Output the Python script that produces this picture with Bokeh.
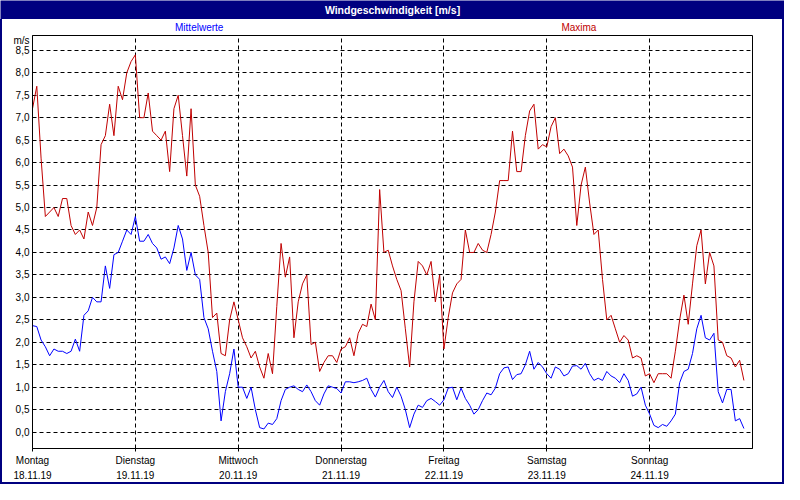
from bokeh.plotting import figure
from bokeh.models import FixedTicker, LinearAxis, Label, Range1d, Spacer, ColumnDataSource
from bokeh.layouts import column, row
from bokeh.embed import file_html
from bokeh.resources import INLINE
from bokeh.core.properties import value

# ---- data (hourly values, Mo 18.11.19 00:00 ... So 24.11.19 22:00) ----
maxima = [
    7.2, 7.7, 6.1, 4.8, 4.9, 5.0, 4.8, 5.2, 5.2, 4.6, 4.4, 4.5, 4.3, 4.9, 4.6, 5.0,
    6.4, 6.6, 7.3, 6.6, 7.7, 7.4, 8.0, 8.25,
    8.4, 7.0, 7.0, 7.55, 6.7, 6.6, 6.5, 6.7, 5.8, 7.2, 7.5, 6.6, 5.7, 7.2, 5.5, 5.25,
    4.6, 4.0, 2.55, 2.65, 1.75, 1.7, 2.5, 2.9,
    2.5, 2.1, 1.9, 1.65, 1.8, 1.45, 1.2, 1.75, 1.3, 2.8, 4.2, 3.45, 3.9, 2.1, 2.9, 3.3,
    3.5, 1.95, 2.0, 1.35, 1.55, 1.7, 1.7, 1.55,
    1.85, 1.9, 2.1, 1.7, 2.2, 2.4, 2.35, 2.85, 2.5, 5.4, 4.0, 4.05, 3.7, 3.4, 3.15, 2.3,
    1.45, 2.9, 3.8, 3.7, 3.5, 3.8, 2.9, 3.5,
    1.85, 2.55, 3.1, 3.3, 3.4, 4.5, 4.0, 4.0, 4.2, 4.05, 4.0, 4.4, 4.9, 5.6, 5.6, 5.6,
    6.7, 5.8, 5.8, 6.6, 7.15, 7.3, 6.3, 6.4,
    6.35, 6.8, 7.0, 6.2, 6.3, 6.15, 5.9, 4.6, 5.5, 5.9, 5.1, 4.4, 4.5, 3.4, 2.5, 2.6,
    2.3, 2.0, 2.15, 2.05, 1.65, 1.7, 1.65, 1.25,
    1.3, 1.1, 1.3, 1.3, 1.3, 1.2, 1.8, 2.5, 3.05, 2.4, 3.3, 4.15, 4.5, 3.3, 4.0, 3.7,
    2.05, 2.0, 1.7, 1.65, 1.45, 1.6, 1.15,
]
mittelwerte = [
    2.37, 2.35, 2.05, 1.9, 1.7, 1.85, 1.8, 1.8, 1.75, 1.8, 2.07, 1.8, 2.6, 2.7, 3.0, 2.9,
    2.9, 3.7, 3.2, 3.95, 4.0, 4.25, 4.5, 4.4,
    4.8, 4.25, 4.25, 4.4, 4.2, 4.1, 3.85, 3.9, 3.75, 4.1, 4.6, 4.3, 3.6, 4.0, 3.5, 3.4,
    2.55, 2.3, 1.8, 1.35, 0.25, 0.9, 1.3, 1.85,
    1.0, 1.0, 0.75, 1.0, 0.5, 0.1, 0.07, 0.2, 0.17, 0.3, 0.7, 0.95, 1.0, 1.03, 0.95, 0.9,
    1.05, 0.9, 0.7, 0.6, 0.85, 1.03, 1.0, 0.97,
    0.87, 1.12, 1.12, 1.1, 1.12, 1.15, 1.2, 0.95, 0.78, 1.0, 1.15, 0.9, 0.77, 1.0, 0.8, 0.5,
    0.1, 0.4, 0.6, 0.55, 0.7, 0.75, 0.68, 0.6,
    0.72, 0.98, 1.0, 0.72, 0.98, 0.75, 0.6, 0.4, 0.5, 0.7, 0.87, 0.83, 0.98, 1.3, 1.43, 1.45,
    1.17, 1.28, 1.3, 1.5, 1.8, 1.4, 1.55, 1.45,
    1.3, 1.2, 1.45, 1.4, 1.25, 1.3, 1.47, 1.48, 1.4, 1.53, 1.3, 1.15, 1.2, 1.15, 1.35, 1.25,
    1.2, 1.1, 1.3, 1.15, 0.8, 0.85, 1.0, 0.6,
    0.4, 0.15, 0.1, 0.17, 0.13, 0.25, 0.4, 1.1, 1.35, 1.4, 1.75, 2.3, 2.6, 2.1, 2.05, 2.2,
    0.9, 0.65, 0.95, 0.95, 0.25, 0.3, 0.08,
]
hours = list(range(len(maxima)))

day_ticks = [0, 24, 48, 72, 96, 120, 144]
day_names = ["Montag", "Dienstag", "Mittwoch", "Donnerstag", "Freitag", "Samstag", "Sonntag"]
day_dates = ["18.11.19", "19.11.19", "20.11.19", "21.11.19", "22.11.19", "23.11.19", "24.11.19"]
y_ticks = [0.0, 0.5, 1.0, 1.5, 2.0, 2.5, 3.0, 3.5, 4.0, 4.5, 5.0, 5.5, 6.0, 6.5, 7.0, 7.5, 8.0, 8.5]
y_unit = "m/s"
title_text = "Windgeschwindigkeit [m/s]"
series_names = ["Mittelwerte", "Maxima"]
series_label_pos = [38.9, 127.5]   # hours, where the series names are centred

NAVY = "#000080"
RED = "#C00000"
BLUE = "#0000FF"
FONT = "Liberation Sans"

# ---- title bar ----
tb = figure(width=784, height=19, x_range=(0, 1), y_range=(0, 1),
            x_axis_type=None, y_axis_type=None, output_backend="svg",
            toolbar_location=None, min_border=0)
tb.grid.visible = False
tb.background_fill_color = NAVY
tb.border_fill_color = NAVY
tb.outline_line_color = None
tb.add_layout(Label(x=0.5, y=0.5, text=title_text, text_color="white",
                    text_font=FONT, text_font_style="bold", text_font_size="10.5px",
                    text_align="center", text_baseline="middle"))

# ---- series-name strip (same horizontal scale as the chart) ----
st = figure(width=780, height=14, x_range=Range1d(0, 168), y_range=Range1d(0, 1),
            x_axis_type=None, y_axis_type=None, output_backend="svg",
            toolbar_location=None, min_border_left=30, min_border_right=30,
            min_border_top=0, min_border_bottom=0)
st.grid.visible = False
st.outline_line_color = None
st.background_fill_color = "white"
st.border_fill_color = "white"
src = ColumnDataSource(dict(x=series_label_pos, y=[0.45, 0.45], t=series_names, c=[BLUE, RED]))
st.text(x="x", y="y", text="t", text_color="c", source=src,
        text_font=value(FONT), text_font_size="10px",
        text_align="center", text_baseline="middle")

# ---- main chart ----
p = figure(width=780, height=449, x_range=Range1d(0, 168), y_range=Range1d(-0.365, 8.83),
           output_backend="svg", toolbar_location=None,
           min_border_left=30, min_border_right=30, min_border_top=2, min_border_bottom=34)
p.background_fill_color = "white"
p.border_fill_color = "white"
p.outline_line_color = "black"
p.outline_line_width = 1

p.line(hours, maxima, line_color=RED, line_width=1)
p.line(hours, mittelwerte, line_color=BLUE, line_width=1)

# x axis: day names
xa = p.xaxis[0]
xa.ticker = FixedTicker(ticks=day_ticks, minor_ticks=[])
xa.major_label_overrides = {t: n for t, n in zip(day_ticks, day_names)}
xa.major_tick_out = 3
xa.major_tick_in = 0
xa.major_tick_line_color = "black"
xa.axis_line_color = "black"
xa.major_label_standoff = 3
xa.major_label_text_font = FONT
xa.major_label_text_font_size = "10px"
xa.major_label_text_color = "black"

# second x axis: dates
xa2 = LinearAxis(ticker=FixedTicker(ticks=day_ticks, minor_ticks=[]),
                 major_label_overrides={t: d for t, d in zip(day_ticks, day_dates)})
xa2.axis_line_color = None
xa2.major_tick_line_color = None
xa2.minor_tick_line_color = None
xa2.major_tick_out = 0
xa2.major_tick_in = 0
xa2.major_label_standoff = 2
xa2.major_label_text_font = FONT
xa2.major_label_text_font_size = "10px"
xa2.major_label_text_color = "black"
p.add_layout(xa2, "below")

# y axis
ya = p.yaxis[0]
unit_pos = 8.72
ya.ticker = FixedTicker(ticks=y_ticks + [unit_pos], minor_ticks=[])
ov = {t: ("%.1f" % t).replace(".", ",") for t in y_ticks}
ov[unit_pos] = y_unit
ya.major_label_overrides = ov
ya.major_tick_out = 0
ya.major_tick_in = 0
ya.major_tick_line_color = None
ya.axis_line_color = "black"
ya.major_label_standoff = 3
ya.major_label_text_font = FONT
ya.major_label_text_font_size = "10px"
ya.major_label_text_color = "black"

# grid
p.xgrid.ticker = FixedTicker(ticks=day_ticks[1:], minor_ticks=[])
p.ygrid.ticker = FixedTicker(ticks=y_ticks, minor_ticks=[])
p.grid.grid_line_color = "black"
p.grid.grid_line_width = 1
p.grid.grid_line_dash = "4 3"
p.grid.grid_line_alpha = 1.0

side_l = Spacer(width=2, height=463, styles={"background-color": NAVY})
side_r = Spacer(width=2, height=463, styles={"background-color": NAVY})
bottom = Spacer(width=784, height=2, styles={"background-color": NAVY})

layout = column(tb, row(side_l, column(st, p), side_r), bottom)

open("out.html", "w").write(file_html(layout, INLINE))
